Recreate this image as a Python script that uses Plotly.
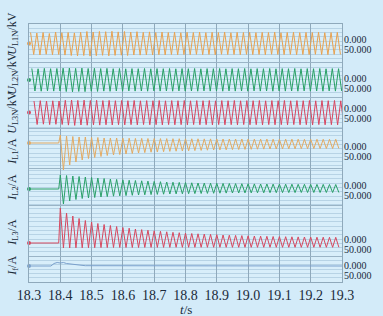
import plotly.graph_objects as go

# ---------------- data ----------------
T_START, T_END = 18.3, 19.3
FREQ_PERIOD = 0.02          # 50 Hz
T_FAULT = 18.395

x_ticks = [18.3, 18.4, 18.5, 18.6, 18.7, 18.8, 18.9, 19.0, 19.1, 19.2, 19.3]

# phase voltages: per-cycle positive and negative peaks (kV, 50 cycles)
ul1n_pk = [11, 10.5, 11, 10, 11.5, 10.8, 11, 10.6, 11.2, 12, 11.5, 12, 11.8, 12.2, 11.6, 12, 11.4, 11.8, 11.2, 11.6,
           11, 11.4, 11, 11.2, 10.8, 11.2, 11, 11.4, 10.9, 11.2, 11, 11.3, 10.8, 11.1, 11, 11.2, 10.9, 11.1, 11, 11.3,
           10.8, 11, 11.2, 10.9, 11.1, 11, 11.2, 10.8, 11, 11.1]
ul1n_tr = [-11, -11.5, -10.8, -11.2, -11, -11.6, -12, -12.4, -12, -12.6, -12.2, -11.8, -12.3, -11.9, -11.7, -12, -11.5, -11.6, -11.3, -11.5,
           -11.2, -11.4, -11, -11.3, -11.1, -11.2, -10.9, -11.2, -11, -11.3, -10.8, -11.1, -11, -11.2, -10.9, -11.1, -11, -11.2, -10.8, -11,
           -11.1, -10.9, -11.2, -11, -11.1, -10.8, -11, -11.2, -10.9, -11]
ul2n_pk = [11.5, 11.2, 11.6, 11.3, 11.5, 11.8, 12, 11.6, 11.9, 11.5, 11.7, 11.4, 11.6, 11.3, 11.5, 11.2, 11.4, 11.3, 11.5, 11.2,
           11.4, 11.3, 11.5, 11.2, 11.4, 11.3, 11.5, 11.2, 11.4, 11.3, 11.5, 11.2, 11.4, 11.3, 11.5, 11.2, 11.4, 11.3, 11.5, 11.2,
           11.4, 11.3, 11.5, 11.2, 11.4, 11.3, 11.5, 11.2, 11.4, 11.3]
ul2n_tr = [-11, -11.2, -10.9, -11.1, -11, -11.5, -11.8, -11.4, -11.6, -11.2, -11.4, -11.1, -11.3, -11, -11.2, -10.9, -11.1, -11, -11.2, -10.9,
           -11.1, -11, -11.2, -10.9, -11.1, -11, -11.2, -10.9, -11.1, -11, -11.2, -10.9, -11.1, -11, -11.2, -10.9, -11.1, -11, -11.2, -10.9,
           -11.1, -11, -11.2, -10.9, -11.1, -11, -11.2, -10.9, -11.1, -11]
ul3n_pk = [11.5, 11.8, 11.4, 11.7, 11.5, 12.2, 12.5, 12.1, 12.3, 12, 12.2, 11.9, 12.1, 11.8, 12, 11.8, 12, 11.7, 11.9, 11.8,
           12, 11.7, 11.9, 11.8, 12, 11.7, 11.9, 11.8, 12, 11.7, 11.9, 11.8, 12, 11.7, 11.9, 11.8, 12, 11.7, 11.9, 11.8,
           12, 11.7, 11.9, 11.8, 12, 11.7, 11.9, 11.8, 12, 11.7]
ul3n_tr = [-12, -11.7, -12.1, -11.8, -12, -12.6, -12.9, -12.5, -12.7, -12.4, -12.6, -12.3, -12.5, -12.2, -12.4, -12.2, -12.4, -12.1, -12.3, -12.2,
           -12.4, -12.1, -12.3, -12.2, -12.4, -12.1, -12.3, -12.2, -12.4, -12.1, -12.3, -12.2, -12.4, -12.1, -12.3, -12.2, -12.4, -12.1, -12.3, -12.2,
           -12.4, -12.1, -12.3, -12.2, -12.4, -12.1, -12.3, -12.2, -12.4, -12.1]

# line currents after the fault: per-cycle positive and negative peaks (A, 45 cycles)
il1_pk = [8, 7, 6.5, 6, 6, 5.5, 5.5, 5, 5, 5, 4.8, 4.8, 4.6, 4.6, 4.5, 4.5, 4.4, 4.4, 4.3, 4.3, 4.2, 4.2, 4.2,
          4.1, 4.1, 4, 4, 4, 4, 4, 3.9, 3.9, 3.9, 3.9, 3.8, 3.8, 3.8, 3.8, 3.8, 3.7, 3.7, 3.7, 3.7, 3.7, 3.7]
il1_tr = [-27, -22, -19, -17, -15.5, -14.5, -13.5, -12.5, -12, -11.5, -11, -10.5, -10, -9.6, -9.2, -9, -8.7, -8.4, -8.2,
          -8, -7.8, -7.6, -7.4, -7.2, -7, -6.9, -6.8, -6.6, -6.5, -6.4, -6.3, -6.2, -6.1, -6, -6, -5.9, -5.8, -5.8,
          -5.7, -5.7, -5.6, -5.6, -5.5, -5.5, -5.5]
il2_pk = [14, 13.5, 13, 12.5, 12, 11.5, 11, 10.5, 10, 9.6, 9.2, 8.8, 8.5, 8.2, 7.9, 7.6, 7.3, 7, 6.8, 6.6, 6.4, 6.2,
          6, 5.9, 5.8, 5.7, 5.6, 5.5, 5.4, 5.3, 5.2, 5.1, 5, 5, 4.9, 4.9, 4.8, 4.8, 4.7, 4.7, 4.6, 4.6, 4.6, 4.5, 4.5]
il2_tr = [-15, -12, -10.5, -9.5, -9, -8.5, -8, -7.6, -7.2, -6.9, -6.6, -6.3, -6, -5.8, -5.6, -5.4, -5.2, -5, -4.9,
          -4.8, -4.7, -4.6, -4.5, -4.4, -4.3, -4.2, -4.1, -4, -4, -3.9, -3.9, -3.8, -3.8, -3.7, -3.7, -3.6, -3.6, -3.6,
          -3.5, -3.5, -3.5, -3.5, -3.5, -3.5, -3.5]
il3_pk = [35, 30, 27, 24.5, 22.5, 21, 19.5, 18.5, 17.5, 16.5, 15.5, 14.8, 14, 13.4, 12.8, 12.2, 11.7, 11.2, 10.7,
          10.3, 9.9, 9.5, 9.2, 8.9, 8.6, 8.3, 8, 7.8, 7.6, 7.4, 7.2, 7, 6.8, 6.7, 6.5, 6.4, 6.3, 6.2, 6.1, 6, 5.9,
          5.8, 5.8, 5.7, 5.7]
il3_tr = [-5, -5, -4.8, -4.8, -4.7, -4.7, -4.6, -4.6, -4.5, -4.5, -4.5, -4.5, -4.5, -4.4, -4.4, -4.4, -4.4, -4.4,
          -4.3, -4.3, -4.3, -4.3, -4.3, -4.3, -4.3, -4.3, -4.3, -4.3, -4.3, -4.3, -4.3, -4.3, -4.3, -4.3, -4.3, -4.3,
          -4.3, -4.3, -4.3, -4.3, -4.3, -4.3, -4.3, -4.3, -4.3]

# fault current: sparse samples
if_t = [18.3, 18.37, 18.38, 18.39, 18.40, 18.41, 18.42, 18.43, 18.44, 18.46, 18.48, 19.3]
if_v = [0, 0, 2.5, 3.5, 3, 3.5, 2.5, 2, 1.5, 1, 0.3, 0]

labels_left = ["<i>U</i><sub>L1N</sub>/kV", "<i>U</i><sub>L2N</sub>/kV", "<i>U</i><sub>L3N</sub>/kV",
               "<i>I</i><sub>L1</sub>/A", "<i>I</i><sub>L2</sub>/A", "<i>I</i><sub>L3</sub>/A", "<i>I</i><sub>f</sub>/A"]
right_top = ["0.000"] * 7
right_bot = ["50.000"] * 7

# ---------------- layout constants ----------------
W, H = 383, 316
ML, MR, MT, MB = 29, 41, 24, 34
PH = H - MT - MB     # plot height in px -> y range [0, PH]

def py(pix):  # pixel row -> y coordinate
    return (H - MB) - pix

base_pix = [43.5, 80, 112.5, 143, 189, 243, 266]
bases = [py(p) for p in base_pix]
rt_pix = [(39.5, 49.5), (78, 88), (108, 118), (146, 156), (185, 195), (239.5, 249.5), (265, 275)]
lab_pix = [34, 74, 113, 151, 187, 232, 266]
colors = ["#e9a24f", "#27a064", "#d9455f", "#e3aa62", "#2aa068", "#d6485f", "#7aa0cc"]
panel_sep_pix = [62, 97, 128, 168, 205, 256]

def zigzag(t0, n, pk, tr, base, lead=None):
    xs, ys = [], []
    if lead is not None:
        xs += [T_START, t0]
        ys += [base, base]
    for k in range(n):
        tk = t0 + k * FREQ_PERIOD
        xs += [tk + FREQ_PERIOD * 0.25, tk + FREQ_PERIOD * 0.75]
        ys += [base + pk[k], base + tr[k]]
    return xs, ys

fig = go.Figure()
series = [
    (T_START, ul1n_pk, ul1n_tr, None),
    (T_START + 0.004, ul2n_pk, ul2n_tr, None),
    (T_START + 0.011, ul3n_pk, ul3n_tr, None),
    (T_FAULT, il1_pk, il1_tr, True),
    (T_FAULT, il2_pk, il2_tr, True),
    (T_FAULT, il3_pk, il3_tr, True),
]
for i, (t0, pk, tr, lead) in enumerate(series):
    n = len(pk)
    xs, ys = zigzag(t0, n, pk, tr, bases[i], lead)
    fig.add_trace(go.Scatter(x=xs, y=ys, mode="lines", line=dict(color=colors[i], width=1),
                             hoverinfo="skip", showlegend=False))
fig.add_trace(go.Scatter(x=if_t, y=[bases[6] + v for v in if_v], mode="lines",
                         line=dict(color=colors[6], width=1), showlegend=False))
# small start markers at the left edge
fig.add_trace(go.Scatter(x=[T_START] * 7, y=bases, mode="markers",
                         marker=dict(color=colors, size=4), cliponaxis=False, showlegend=False))

serif = "Liberation Serif, Times New Roman, serif"
ann = []
for i in range(7):
    ann.append(dict(x=-0.052, xref="paper", y=py(lab_pix[i]), yref="y", text=labels_left[i],
                    textangle=-90, showarrow=False, font=dict(family=serif, size=12, color="#1a2a3a"),
                    xanchor="center", yanchor="middle"))
    ann.append(dict(x=1.0, xref="paper", y=py(rt_pix[i][0]), yref="y", text=right_top[i], showarrow=False,
                    xanchor="left", yanchor="middle", xshift=0, font=dict(family=serif, size=10, color="#1a2a3a")))
    ann.append(dict(x=1.0, xref="paper", y=py(rt_pix[i][1]), yref="y", text=right_bot[i], showarrow=False,
                    xanchor="left", yanchor="middle", xshift=0, font=dict(family=serif, size=10, color="#1a2a3a")))
ann.append(dict(x=0.5, xref="paper", y=-0.105, yref="paper", text="<i>t</i>/s", showarrow=False,
                yanchor="middle", font=dict(family=serif, size=13, color="#1a2a3a")))

minor_vals = [k * 4.3 for k in range(int(PH / 4.3) + 1)]

fig.update_layout(
    width=W, height=H,
    margin=dict(l=ML, r=MR, t=MT, b=MB),
    paper_bgcolor="#d3ebf9",
    plot_bgcolor="#d8eefa",
    annotations=ann,
    xaxis=dict(range=[T_START, T_END], tickvals=x_ticks, ticktext=[f"{v:.1f}" for v in x_ticks],
               showgrid=True, gridcolor="#8fa9bb", gridwidth=1, zeroline=False,
               showline=True, linecolor="#8fa9bb", mirror=True, ticks="", ticklen=0,
               tickfont=dict(family=serif, size=14, color="#1a2a3a")),
    yaxis=dict(range=[0, PH], tickvals=[py(p) for p in panel_sep_pix], showticklabels=False,
               showgrid=True, gridcolor="#9ab4c6", gridwidth=1, zeroline=False,
               showline=True, linecolor="#8fa9bb", mirror=True, ticks="",
               minor=dict(tickvals=minor_vals, showgrid=True, gridcolor="#b7d3e5", gridwidth=1, ticks="")),
)

fig.write_html("out.html", config={"displayModeBar": False},
               post_script="document.body.style.margin='0px';document.body.style.overflow='hidden';")
